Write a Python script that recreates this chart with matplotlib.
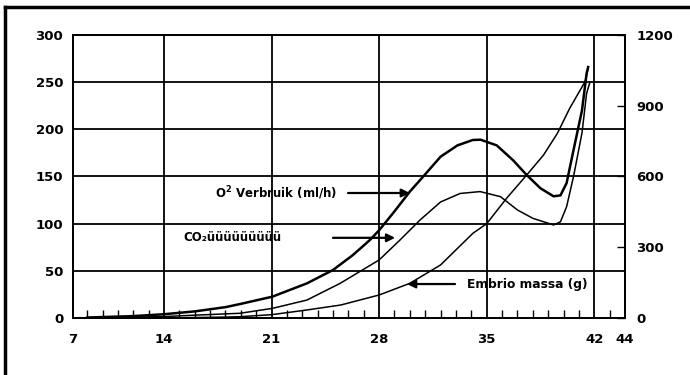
import numpy as np
import matplotlib
matplotlib.use('Agg')
from matplotlib import pyplot as plt
from matplotlib.lines import Line2D

# O2 consumption (ml/h), left axis
o2_day = [9, 12, 14, 16, 18, 18.95, 21.05, 23.3, 25.0, 26.3, 27.4, 28.0, 28.9, 30.0,
          30.9, 32.0, 33.1, 34.1, 34.6, 35.65, 36.7, 37.6, 38.5, 39.35, 39.8, 40.2,
          40.65, 41.2, 41.5, 41.6]
o2_val = [0.5, 2, 4, 7, 11.5, 14.8, 22.6, 36.7, 50.9, 66.8, 82.7, 93, 111, 134,
          150.5, 171, 183, 188.7, 189, 183, 167.5, 151.6, 137.5, 129, 130, 143,
          178, 220, 259, 266]

# CO2 production, left axis
co2_day = [9, 14, 16, 18.95, 21.05, 23.3, 25.46, 28.0, 29.36, 30.67, 32.0, 33.27, 34.57,
           35.9, 37.0, 38.0, 39.35, 39.8, 40.2, 40.65, 41.2, 41.5, 41.7]
co2_val = [0, 1.5, 3, 5, 10.2, 19, 36.7, 61.5, 82.7, 104, 123, 132, 134,
           128.6, 114.5, 105.7, 98.6, 102, 118, 150, 196, 238, 249]

# embryo mass (g), right axis
emb_day = [9, 14, 18, 18.95, 21, 23.3, 25.5, 28, 30.0, 32, 34.1, 35, 36.3, 37.6, 38.7,
           39.6, 40.4, 41.4, 41.6]
emb_val = [0, 0, 4, 5.6, 14, 34, 55, 97.5, 147, 225, 359, 400, 508, 606, 691,
           783, 889, 1002, 1059]

x_lo, x_hi = 8.08, 44
xtick_pos = [x_lo, 14, 21, 28, 35, 42, 44]
xtick_lab = ['7', '14', '21', '28', '35', '42', '44']
grid_days = [14, 21, 28, 35, 42]
left_ticks = [0, 50, 100, 150, 200, 250, 300]
right_ticks = [0, 300, 600, 900, 1200]

plt.rcParams['font.family'] = ['DejaVu Sans']
plt.rcParams['font.weight'] = 'bold'

fig = plt.figure(figsize=(6.9, 3.75), dpi=100)
ax = fig.add_axes([0.1058, 0.152, 0.80, 0.7547])

ax.set_xlim(x_lo, x_hi)
ax.set_ylim(0, 300)

for d in grid_days:
    ax.axvline(d, color='black', lw=1.3, zorder=1)
for v in left_ticks[1:-1]:
    ax.axhline(v, color='black', lw=1.3, zorder=1)

ax.plot(o2_day, o2_val, color='black', lw=1.8, zorder=3, solid_joinstyle='round')
ax.plot(co2_day, co2_val, color='black', lw=1.1, zorder=3, solid_joinstyle='round')

ax2 = ax.twinx()
ax2.set_ylim(0, 1200)
ax2.plot(emb_day, emb_val, color='black', lw=1.1, zorder=3, solid_joinstyle='round')

for a in (ax, ax2):
    for s in a.spines.values():
        s.set_color('black')
        s.set_linewidth(1.4)

ax.set_xticks(xtick_pos)
ax.set_xticklabels(xtick_lab)
ax.set_xticks(np.arange(9, 44), minor=True)
ax.tick_params(axis='x', which='major', length=0, pad=11, labelsize=9.5)
ax.tick_params(axis='x', which='minor', direction='in', length=6, width=1)
ax.set_yticks(left_ticks)
ax.tick_params(axis='y', length=0, pad=7, labelsize=9.5)
ax2.set_yticks(right_ticks)
ax2.tick_params(axis='y', direction='in', length=6, width=1, pad=8, labelsize=9.5)

arrow = dict(arrowstyle='-|>', color='black', lw=1.6, mutation_scale=12, shrinkA=0, shrinkB=0)
ax.annotate('', xy=(30.0, 132.5), xytext=(25.98, 132.5), arrowprops=arrow, zorder=4)
ax.text(25.3, 132.5, 'O$^\\mathbf{2}$ Verbruik (ml/h)', ha='right', va='center',
        fontsize=8.5, fontweight='bold', zorder=4)
ax.annotate('', xy=(29.04, 85), xytext=(25.0, 85), arrowprops=arrow, zorder=4)
ax.text(15.24, 85, 'CO\u2082üüüüüüüüü', ha='left', va='center',
        fontsize=8.5, fontweight='bold', zorder=4)
ax.annotate('', xy=(29.82, 36), xytext=(32.94, 36), arrowprops=arrow, zorder=4)
ax.text(33.73, 36, 'Embrio massa (g)', ha='left', va='center',
        fontsize=8.8, fontweight='bold', zorder=4)

# frame remnants along top and left edge
fig.add_artist(Line2D([5 / 690, 1], [1 - 7 / 375, 1 - 7 / 375], color='black', lw=2.5,
                      transform=fig.transFigure))
fig.add_artist(Line2D([5 / 690, 5 / 690], [0, 1 - 7 / 375], color='black', lw=2.5,
                      transform=fig.transFigure))

fig.savefig('out.png', dpi=100)
